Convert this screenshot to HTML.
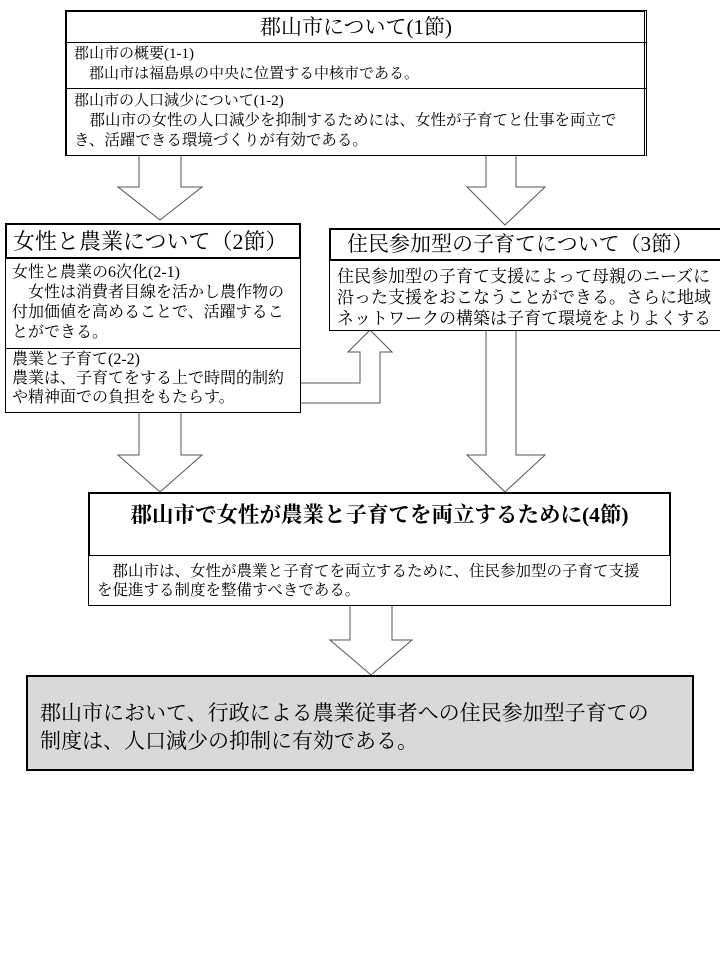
<!DOCTYPE html>
<html><head><meta charset="utf-8"><style>
body{margin:0;width:720px;height:960px;background:#fff;position:relative;overflow:hidden;font-family:"Liberation Serif","Noto Serif CJK SC","Noto Sans CJK JP",serif;color:#000}
.a{position:absolute;box-sizing:border-box}
.t{position:absolute;white-space:nowrap;line-height:20px}
</style></head><body>
<svg class="a" style="left:0;top:0" width="720" height="960">
<g fill="#fff" stroke="#555" stroke-width="1">
<polygon points="139,155 181,155 181,187 202,187 160,220 118,187 139,187"/>
<polygon points="486,155 516,155 516,187 545,187 505,225 467,187 486,187"/>
<polygon points="139,412 181,412 181,455 202,455 160,492 118,455 139,455"/>
<polygon points="486,330 516,330 516,455 545,455 505,492 467,455 486,455"/>
<polygon points="350,605 392,605 392,640 412,640 371,675 330,640 350,640"/>
<polygon points="300,383 360,383 360,352 348,352 370,330 392,352 380,352 380,403 300,403"/>
</g></svg>

<div class="a" style="left:65px;top:10px;width:582px;height:146px;border:1px solid #000;border-top:2px solid #000;border-left:2px solid #000;border-right:3px double #000;background:#fff"></div>
<div class="a" style="left:65px;top:42px;width:582px;border-top:1px solid #000"></div>
<div class="a" style="left:65px;top:88px;width:582px;border-top:1px solid #000"></div>
<div class="t" style="left:65px;width:582px;text-align:center;top:15px;font-size:21px;line-height:24px">郡山市について(1節)</div>
<div class="t" style="left:74px;top:44px;font-size:15px">郡山市の概要(1-1)</div>
<div class="t" style="left:74px;top:64px;font-size:15px">　郡山市は福島県の中央に位置する中核市である。</div>
<div class="t" style="left:74px;top:91px;font-size:15px">郡山市の人口減少について(1-2)</div>
<div class="t" style="left:74px;top:111px;font-size:15.5px">　郡山市の女性の人口減少を抑制するためには、女性が子育てと仕事を両立で</div>
<div class="t" style="left:74px;top:131px;font-size:15.5px">き、活躍できる環境づくりが有効である。</div>

<div class="a" style="left:5px;top:223px;width:296px;height:190px;border:1px solid #000;background:#fff"></div>
<div class="a" style="left:5px;top:223px;width:296px;height:36px;border:2px solid #000"></div>
<div class="a" style="left:5px;top:348px;width:296px;border-top:1px solid #000"></div>
<div class="t" style="left:13px;top:229px;font-size:22px;line-height:26px">女性と農業について（2節）</div>
<div class="t" style="left:12px;top:263px;font-size:16px">女性と農業の6次化(2-1)</div>
<div class="t" style="left:12px;top:283px;font-size:16px">　女性は消費者目線を活かし農作物の</div>
<div class="t" style="left:12px;top:303px;font-size:16px">付加価値を高めることで、活躍するこ</div>
<div class="t" style="left:12px;top:323px;font-size:16px">とができる。</div>
<div class="t" style="left:12px;top:350px;font-size:16px">農業と子育て(2-2)</div>
<div class="t" style="left:12px;top:369px;font-size:16px">農業は、子育てをする上で時間的制約</div>
<div class="t" style="left:12px;top:388px;font-size:16px">や精神面での負担をもたらす。</div>

<div class="a" style="left:329px;top:228px;width:395px;height:103px;border:1px solid #000;background:#fff"></div>
<div class="a" style="left:329px;top:228px;width:395px;height:33px;border:2px solid #000"></div>
<div class="t" style="left:347px;top:232px;font-size:21px;line-height:25px">住民参加型の子育てについて（3節）</div>
<div class="t" style="left:337px;top:266px;font-size:17px;line-height:21px">住民参加型の子育て支援によって母親のニーズに</div>
<div class="t" style="left:337px;top:287px;font-size:17px;line-height:21px">沿った支援をおこなうことができる。さらに地域</div>
<div class="t" style="left:337px;top:308px;font-size:17px;line-height:21px">ネットワークの構築は子育て環境をよりよくする</div>

<div class="a" style="left:88px;top:492px;width:583px;height:114px;border:1px solid #000;background:#fff"></div>
<div class="a" style="left:88px;top:492px;width:583px;height:64px;border:2px solid #000;border-bottom-width:1px"></div>
<div class="t" style="left:88px;width:583px;text-align:center;top:501px;font-size:21.5px;line-height:28px;font-weight:bold">郡山市で女性が農業と子育てを両立するために(4節)</div>
<div class="t" style="left:97px;top:562px;font-size:15.5px">　郡山市は、女性が農業と子育てを両立するために、住民参加型の子育て支援</div>
<div class="t" style="left:97px;top:581px;font-size:15.5px">を促進する制度を整備すべきである。</div>

<div class="a" style="left:26px;top:675px;width:668px;height:96px;border:2px solid #000;background:#d9d9d9"></div>
<div class="t" style="left:40px;top:699px;font-size:21px;line-height:28px">郡山市において、行政による農業従事者への住民参加型子育ての</div>
<div class="t" style="left:40px;top:727px;font-size:21px;line-height:28px">制度は、人口減少の抑制に有効である。</div>
</body></html>
